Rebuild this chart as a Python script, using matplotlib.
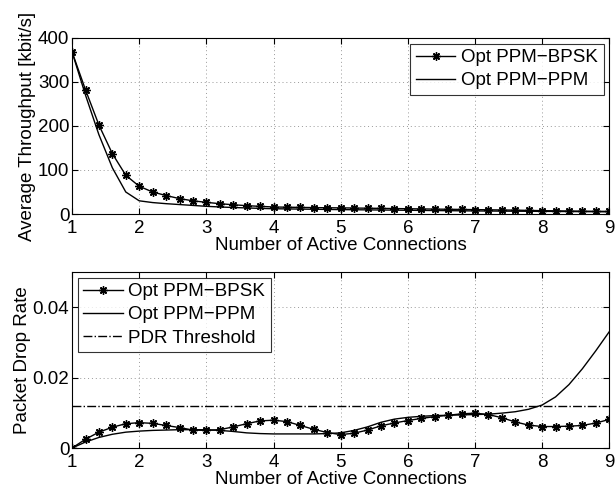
import matplotlib
matplotlib.use('Agg')
import matplotlib.pyplot as plt
import numpy as np

# Number of active connections (sample grid)
connections = [1.0, 1.2, 1.4, 1.6, 1.8, 2.0, 2.2, 2.4, 2.6, 2.8,
               3.0, 3.2, 3.4, 3.6, 3.8, 4.0, 4.2, 4.4, 4.6, 4.8,
               5.0, 5.2, 5.4, 5.6, 5.8, 6.0, 6.2, 6.4, 6.6, 6.8,
               7.0, 7.2, 7.4, 7.6, 7.8, 8.0, 8.2, 8.4, 8.6, 8.8, 9.0]

# Average throughput [kbit/s]
thr_bpsk = [368, 282, 202, 137, 88, 63, 50, 42, 35, 30,
            26.5, 23.5, 21, 19, 17.4, 16, 15.5, 15, 14.6, 14.2,
            14, 13.6, 13.2, 12.8, 12.4, 12, 11.6, 11.2, 10.8, 10.4,
            10, 9.6, 9.2, 8.8, 8.2, 7.6, 7.2, 6.8, 6.5, 6.2, 6]
thr_ppm = [368, 270, 180, 105, 50, 30, 26, 23.5, 21.5, 19.5,
           17.5, 16, 14.8, 13.8, 12.8, 12, 11.6, 11.2, 10.8, 10.4,
           10, 9.7, 9.4, 9.1, 8.8, 8.5, 8.2, 7.9, 7.6, 7.3,
           7, 6.8, 6.6, 6.4, 6.2, 6, 5.8, 5.6, 5.4, 5.2, 5]

# Packet drop rate
pdr_bpsk = [0.0, 0.0025, 0.0045, 0.0059, 0.0069, 0.0072, 0.0070, 0.0064, 0.0058, 0.0051,
            0.0050, 0.0052, 0.0060, 0.0069, 0.0077, 0.0079, 0.0075, 0.0064, 0.0053, 0.0044,
            0.0038, 0.0042, 0.0051, 0.0063, 0.0071, 0.0078, 0.0084, 0.0089, 0.0093, 0.0097,
            0.0099, 0.0095, 0.0086, 0.0074, 0.0065, 0.0061, 0.0061, 0.0062, 0.0064, 0.0071, 0.0081]
pdr_ppm = [0.0, 0.0017, 0.0030, 0.0039, 0.0045, 0.0048, 0.0050, 0.0051, 0.0052, 0.0052,
           0.0052, 0.0050, 0.0047, 0.0043, 0.0041, 0.0040, 0.0040, 0.0040, 0.0040, 0.0041,
           0.0043, 0.0050, 0.0060, 0.0073, 0.0082, 0.0087, 0.0090, 0.0092, 0.0093, 0.0094,
           0.0095, 0.0096, 0.0099, 0.0103, 0.0110, 0.0122, 0.0145, 0.0180, 0.0225, 0.0276, 0.0330]
pdr_threshold = 0.0118

plt.rcParams['font.family'] = ['Liberation Sans', 'DejaVu Sans']
FS = 13.5

fig = plt.figure(figsize=(6.16, 4.92), dpi=100)
ax1 = fig.add_axes([0.117, 0.565, 0.872, 0.358])
ax2 = fig.add_axes([0.117, 0.0894, 0.872, 0.358])

x = np.array(connections)
star = (8, 2, 0)  # MATLAB-like asterisk

def style_axes(ax):
    ax.set_xlim(1, 9)
    ax.set_xticks(range(1, 10))
    ax.grid(True, linestyle=(0, (1, 3)), color='#999999', linewidth=0.7)
    ax.tick_params(direction='in', top=True, right=True, length=4, width=0.8, labelsize=FS)
    ax.tick_params(axis='x', pad=4)
    ax.tick_params(axis='y', pad=2)
    for s in ax.spines.values():
        s.set_linewidth(0.8)
    ax.set_xlabel('Number of Active Connections', fontsize=FS, labelpad=0)

def add_legend(ax, loc):
    leg = ax.legend(loc=loc, fancybox=False, edgecolor='black', fontsize=FS,
                    handlelength=2.1, borderpad=0.3, labelspacing=0.32, handletextpad=0.3,
                    borderaxespad=0.3)
    leg.get_frame().set_linewidth(0.8)

# top: throughput
ax1.plot(x, thr_bpsk, 'k-', marker=star, markersize=6, markeredgewidth=1.0,
         linewidth=1, label='Opt PPM\u2212BPSK')
ax1.plot(x, thr_ppm, 'k-', linewidth=1, label='Opt PPM\u2212PPM')
ax1.set_ylim(0, 400)
ax1.set_yticks([0, 100, 200, 300, 400])
ax1.set_ylabel('Average Throughput [kbit/s]', fontsize=FS, labelpad=1)
style_axes(ax1)
add_legend(ax1, 'upper right')

# bottom: packet drop rate
ax2.plot(x, pdr_bpsk, 'k-', marker=star, markersize=6, markeredgewidth=1.0,
         linewidth=1, label='Opt PPM\u2212BPSK')
ax2.plot(x, pdr_ppm, 'k-', linewidth=1, label='Opt PPM\u2212PPM')
ax2.axhline(pdr_threshold, color='k', linestyle='-.', linewidth=1, label='PDR Threshold')
ax2.set_ylim(0, 0.05)
ax2.set_yticks([0, 0.02, 0.04])
ax2.set_yticklabels(['0', '0.02', '0.04'])
ax2.set_ylabel('Packet Drop Rate', fontsize=FS, labelpad=1)
style_axes(ax2)
add_legend(ax2, 'upper left')

fig.savefig('out.png', dpi=100)
